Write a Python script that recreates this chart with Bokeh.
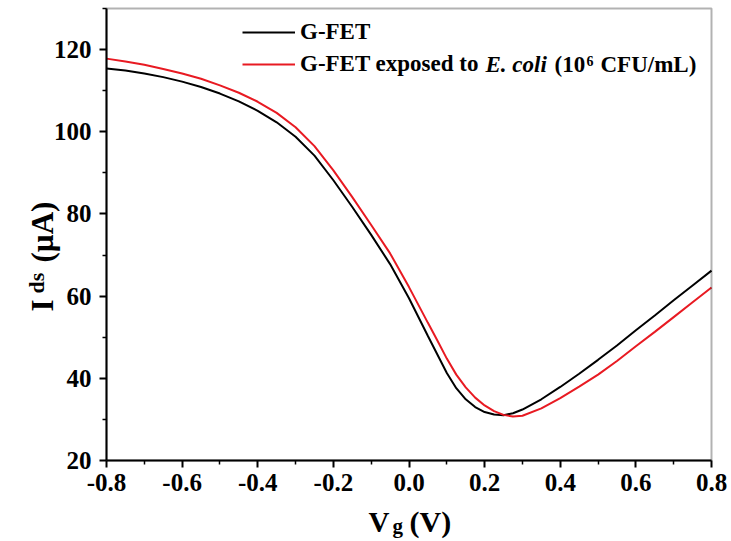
import math
from bokeh.plotting import figure
from bokeh.models import (Range1d, FixedTicker, NumeralTickFormatter, Legend,
                          LegendItem, Label, BoxAnnotation)
from bokeh.embed import file_html
from bokeh.resources import INLINE

# ---- data ----
vg = [-0.80, -0.75, -0.70, -0.65, -0.60, -0.55, -0.50, -0.45, -0.40, -0.35,
      -0.30, -0.25, -0.20, -0.15, -0.10, -0.05, 0.00, 0.05, 0.075, 0.10,
      0.125, 0.15, 0.175, 0.20, 0.225, 0.25, 0.275, 0.30, 0.35, 0.40,
      0.45, 0.50, 0.55, 0.60, 0.65, 0.70, 0.75, 0.80]
ids_gfet = [115.4, 114.9, 114.2, 113.3, 112.2, 110.9, 109.3, 107.4, 105.1, 102.3,
            98.8, 94.2, 88.2, 81.7, 74.9, 67.8, 59.5, 50.3, 45.8, 41.3,
            37.6, 34.9, 33.0, 31.8, 31.2, 31.0, 31.5, 32.4, 34.9, 37.9,
            41.1, 44.5, 48.0, 51.7, 55.3, 59.0, 62.6, 66.2]
ids_ecoli = [117.8, 117.1, 116.3, 115.3, 114.2, 112.9, 111.3, 109.5, 107.3, 104.6,
             101.1, 96.5, 90.6, 84.1, 77.3, 70.4, 62.2, 53.5, 49.2, 44.8,
             40.9, 37.8, 35.3, 33.4, 32.0, 31.1, 30.7, 30.9, 32.7, 35.2,
             38.0, 40.9, 44.2, 47.8, 51.3, 54.9, 58.5, 62.1]

x_ticks = [-0.8, -0.6, -0.4, -0.2, 0.0, 0.2, 0.4, 0.6, 0.8]
x_minor = [-0.7, -0.5, -0.3, -0.1, 0.1, 0.3, 0.5, 0.7]
y_ticks = [20, 40, 60, 80, 100, 120]
y_minor = [30, 50, 70, 90, 110, 130]
X_LIM = (-0.8, 0.8)
Y_LIM = (20, 130)

legend_labels = ["G-FET", "G-FET exposed to"]

FONT = "Liberation Serif"

# canvas geometry (pixels): plot box spans x 106..711, y 8..460
W, H = 731, 541
BL, BR, BT, BB = 106, 711, 8, 460
sx = (BR - BL) / (X_LIM[1] - X_LIM[0])
sy = (BB - BT) / (Y_LIM[1] - Y_LIM[0])
x_range = Range1d(X_LIM[0] - BL / sx, X_LIM[1] + (W - BR) / sx)
y_range = Range1d(Y_LIM[0] - (H - BB) / sy, Y_LIM[1] + BT / sy)

p = figure(width=W, height=H, output_backend="svg", toolbar_location=None,
           x_range=x_range, y_range=y_range,
           min_border_left=0, min_border_right=0, min_border_top=0,
           min_border_bottom=0)
p.background_fill_color = "white"
p.border_fill_color = "white"
p.grid.visible = False
p.outline_line_color = None

r1 = p.line(vg, ids_gfet, line_color="black", line_width=2)
r2 = p.line(vg, ids_ecoli, line_color="#e81a22", line_width=2)

p.add_layout(BoxAnnotation(left=X_LIM[0], right=X_LIM[1], bottom=Y_LIM[0],
                           top=Y_LIM[1], fill_alpha=0, line_color="black",
                           line_width=2))

for ax in (p.xaxis[0], p.yaxis[0]):
    ax.axis_line_width = 2
    ax.major_tick_line_width = 2
    ax.minor_tick_line_width = 1.5
    ax.major_tick_in = 0
    ax.major_tick_out = 7
    ax.minor_tick_in = 0
    ax.minor_tick_out = 4
    ax.major_label_text_font = FONT
    ax.major_label_text_font_style = "bold"
    ax.major_label_text_font_size = "25px"
    ax.major_label_text_color = "black"
    ax.axis_label = None

p.xaxis[0].ticker = FixedTicker(ticks=x_ticks, minor_ticks=x_minor)
p.xaxis[0].formatter = NumeralTickFormatter(format="0.0")
p.xaxis[0].major_label_standoff = 6
p.xaxis[0].fixed_location = Y_LIM[0]
p.xaxis[0].bounds = X_LIM
p.yaxis[0].ticker = FixedTicker(ticks=y_ticks, minor_ticks=y_minor)
p.yaxis[0].major_label_standoff = 8
p.yaxis[0].fixed_location = X_LIM[0]
p.yaxis[0].bounds = Y_LIM

legend = Legend(items=[LegendItem(label=legend_labels[0], renderers=[r1]),
                       LegendItem(label=legend_labels[1], renderers=[r2])],
                location=(242, H - 80), orientation="vertical",
                padding=0, margin=0, spacing=0,
                label_height=32, glyph_height=32, glyph_width=53,
                label_standoff=5, border_line_alpha=0,
                background_fill_alpha=0,
                label_text_font=FONT, label_text_font_style="bold",
                label_text_font_size="23px", label_text_color="black")
p.add_layout(legend)


def px2x(px):
    return X_LIM[0] + (px - BL) / sx


def py2y(py):
    return Y_LIM[0] + (BB - py) / sy


def lab(text, px, py, size, style="bold", angle=0.0, baseline="alphabetic"):
    p.add_layout(Label(x=px2x(px), y=py2y(py), text=text, angle=angle,
                       text_font=FONT, text_font_style=style,
                       text_font_size=size, text_color="black",
                       text_align="left", text_baseline=baseline))


# rest of second legend entry
lab("E. coli", 485, 64, "23px", style="bold italic", baseline="middle")
lab("(10", 554, 64, "23px", baseline="middle")
lab("6", 586, 55, "14px", baseline="top")
lab("CFU/mL)", 600, 64, "23px", baseline="middle")

# x axis title: V_g (V)
lab("V", 368, 521, "29px")
lab("g", 392, 525, "21px")
lab("(V)", 409, 521, "30px")

# y axis title: I_ds (µA)
lab("I", 42, 311, "31px", angle=math.pi / 2)
lab("ds", 36, 293, "22px", angle=math.pi / 2)
lab("(µA)", 42, 262, "31px", angle=math.pi / 2)

open("out.html", "w").write(file_html(p, INLINE))
